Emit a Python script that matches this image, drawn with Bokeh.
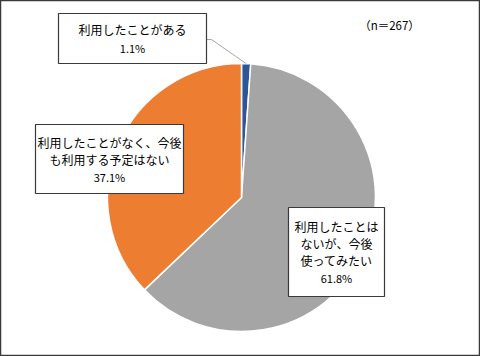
import math
from bokeh.plotting import figure
from bokeh.models import Range1d, ColumnDataSource
from bokeh.core.properties import value
from bokeh.embed import file_html
from bokeh.resources import INLINE

# data
categories = ["利用したことがある", "利用したことはないが、今後使ってみたい", "利用したことがなく、今後も利用する予定はない"]
shares = [1.1, 61.8, 37.1]
colors = ["#2E5597", "#A5A5A5", "#ED7D31"]
n_label = "（n＝267）"
label_lines = [
    ["利用したことがある"],
    ["利用したことは", "ないが、今後", "使ってみたい"],
    ["利用したことがなく、今後", "も利用する予定はない"],
]
pct_labels = ["1.1%", "61.8%", "37.1%"]

W, H = 480, 356
FONT = "Noto Sans CJK JP"

p = figure(width=W, height=H, output_backend="svg", toolbar_location=None,
           x_range=Range1d(0, W), y_range=Range1d(0, H), min_border=0,
           outline_line_color="#3a3a3a", outline_line_width=1.5,
           background_fill_color="white", border_fill_color="white")
p.xaxis.visible = False
p.yaxis.visible = False
p.grid.visible = False

# pie
cx, cy, r = 241, 159, 134
total = sum(shares)
starts, ends = [], []
cum = 0.0
for s in shares:
    starts.append(math.pi / 2 - 2 * math.pi * cum / total)
    cum += s
    ends.append(math.pi / 2 - 2 * math.pi * cum / total)
src = ColumnDataSource(dict(start=starts, end=ends, color=colors, cat=categories))
p.wedge(x=cx, y=cy, radius=r, start_angle="start", end_angle="end", direction="clock",
        fill_color="color", line_color="white", line_width=1.5, source=src)

# leader line for smallest slice
mid = math.pi / 2 - 2 * math.pi * (shares[0] / 2) / total
ex, ey = cx + r * math.cos(mid), cy + r * math.sin(mid)
p.line(x=[206, 211, ex], y=[317, 317, ey], line_color="#A6A6A6", line_width=1)

# label boxes: (left, right, top, bottom, center_x, line ys)
boxes = [
    (58, 206, 343, 293, 132, [327, 309]),
    (288, 384, 149, 60, 336, [130, 113, 96, 79]),
    (35, 183, 232, 163, 109, [214, 197, 180]),
]
for i, (l, rr, t, b, xc, ys) in enumerate(boxes):
    p.quad(left=l, right=rr, top=t, bottom=b, fill_color="white",
           line_color="#3a3a3a", line_width=1.2)
    lines = label_lines[i]
    p.text(x=[xc] * len(lines), y=ys[:len(lines)], text=lines,
           text_align="center", text_baseline="middle",
           text_font=value(FONT), text_font_size="12px", text_color="#000000")
    p.text(x=[xc], y=[ys[-1]], text=[pct_labels[i]],
           text_align="center", text_baseline="middle",
           text_font=value(FONT), text_font_size="11px", text_color="#000000")

p.text(x=[389], y=[332], text=[n_label], text_align="center", text_baseline="middle",
       text_font=value(FONT), text_font_size="11.5px", text_color="#000000")

open("out.html", "w").write(file_html(p, INLINE))
